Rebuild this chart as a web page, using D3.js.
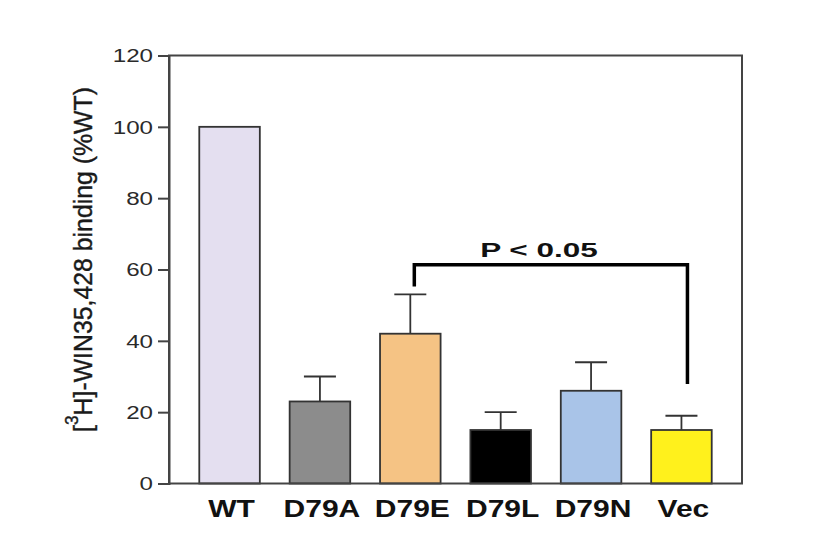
<!DOCTYPE html>
<html>
<head>
<meta charset="utf-8">
<script src="https://cdn.jsdelivr.net/npm/d3@7"></script>
<style>
  html, body { margin: 0; padding: 0; background: #fff; }
  svg { display: block; font-family: "Liberation Sans", Arial, sans-serif; }
</style>
</head>
<body>
<div id="container"></div>
<script>
"use strict"

// data
const groups = ["WT", "D79A", "D79E", "D79L", "D79N", "Vec"];
const means = [100, 23, 42, 15, 26, 15];
const errors = [0, 7, 11, 5, 8, 4];
const barColors = ["#e4dff0", "#8c8c8c", "#f5c384", "#000000", "#a9c4e8", "#fff11c"];
const yTicks = [0, 20, 40, 60, 80, 100, 120];
const compared = ["D79E", "Vec"];
const bracketLevel = 61.3;
const bracketEnds = [55.2, 27.9];
const bracketLabel = "P < 0.05";

const width = 829;
const height = 546;
const frame = {left: 169, right: 742, top: 55.5, bottom: 483.5};

const svg = d3.select("#container").append("svg")
    .attr("width", width)
    .attr("height", height);

const x = d3.scaleBand()
    .domain(groups)
    .range([frame.left, frame.right])
    .paddingInner(0.33)
    .paddingOuter(0.335);

const y = d3.scaleLinear()
    .domain([0, 120])
    .range([frame.bottom, frame.top]);

// stretch text horizontally like the (widened) source image
function Stretch(sel, k)
{
    sel.each(function() {
        const w = this.getComputedTextLength();
        d3.select(this)
            .attr("textLength", w * k)
            .attr("lengthAdjust", "spacingAndGlyphs");
    });
}

// bars
svg.append("g")
    .selectAll("rect")
    .data(groups)
    .enter()
    .append("rect")
    .attr("x", d => x(d))
    .attr("y", (d, i) => y(means[i]))
    .attr("width", x.bandwidth())
    .attr("height", (d, i) => y(0) - y(means[i]))
    .attr("fill", (d, i) => barColors[i])
    .attr("stroke", "#333")
    .attr("stroke-width", 1.8);

// error bars (upper only)
const err = svg.append("g")
    .attr("stroke", "#333")
    .attr("stroke-width", 1.8)
    .selectAll("g")
    .data(groups.filter((d, i) => errors[i] > 0))
    .enter()
    .append("g");

err.append("line")
    .attr("x1", d => x(d) + x.bandwidth() / 2)
    .attr("x2", d => x(d) + x.bandwidth() / 2)
    .attr("y1", d => y(means[groups.indexOf(d)]))
    .attr("y2", d => y(means[groups.indexOf(d)] + errors[groups.indexOf(d)]));

err.append("line")
    .attr("x1", d => x(d) + x.bandwidth() / 2 - 16)
    .attr("x2", d => x(d) + x.bandwidth() / 2 + 16)
    .attr("y1", d => y(means[groups.indexOf(d)] + errors[groups.indexOf(d)]))
    .attr("y2", d => y(means[groups.indexOf(d)] + errors[groups.indexOf(d)]));

// frame
svg.append("rect")
    .attr("x", frame.left)
    .attr("y", frame.top)
    .attr("width", frame.right - frame.left)
    .attr("height", frame.bottom - frame.top)
    .attr("fill", "none")
    .attr("stroke", "#444")
    .attr("stroke-width", 2);

// y axis
const yAxis = svg.append("g")
    .attr("transform", `translate(${frame.left},0)`)
    .call(d3.axisLeft(y).tickValues(yTicks).tickSize(11).tickPadding(5).tickFormat(d3.format("d")));

yAxis.select(".domain").attr("stroke", "#444").attr("stroke-width", 2);
yAxis.selectAll(".tick line").attr("stroke", "#444").attr("stroke-width", 2);
yAxis.selectAll(".tick text")
    .attr("font-size", 17.5)
    .attr("font-family", "Liberation Sans, Arial, sans-serif")
    .attr("fill", "#2a2a2a")
    .attr("dy", "0.36em")
    .call(Stretch, 1.38);

// category labels
svg.append("g")
    .selectAll("text")
    .data(groups)
    .enter()
    .append("text")
    .attr("x", d => x(d) + x.bandwidth() / 2 + 2)
    .attr("y", 517)
    .attr("text-anchor", "middle")
    .attr("font-size", 24)
    .attr("font-weight", "bold")
    .attr("fill", "#111")
    .text(d => d)
    .call(Stretch, 1.25);

// y axis title with superscript
const title = svg.append("text")
    .attr("transform", `translate(92,${(87 + 432) / 2}) rotate(-90) scale(1,1.12)`)
    .attr("text-anchor", "middle")
    .attr("font-size", 23)
    .attr("fill", "#1a1a1a")
    .attr("stroke", "#1a1a1a")
    .attr("stroke-width", 0.35);
title.append("tspan").text("[");
title.append("tspan").attr("font-size", 16).attr("dy", "-0.8em").text("3");
title.append("tspan").attr("dy", "0.55em").text("H]-WIN35,428 binding (%WT)");
Stretch(title, 1.08);

// significance bracket
const xa = x(compared[0]) + x.bandwidth() / 2 + 4;
const xb = x(compared[1]) + x.bandwidth() / 2 + 6;
svg.append("path")
    .attr("d", `M${xa},${y(bracketEnds[0])} V${y(bracketLevel)} H${xb} V${y(bracketEnds[1])}`)
    .attr("fill", "none")
    .attr("stroke", "#000")
    .attr("stroke-width", 3.5);

svg.append("text")
    .attr("x", 539)
    .attr("y", 257)
    .attr("text-anchor", "middle")
    .attr("font-size", 21)
    .attr("font-weight", "bold")
    .attr("fill", "#111")
    .text(bracketLabel)
    .call(Stretch, 1.5);
</script>
</body>
</html>
